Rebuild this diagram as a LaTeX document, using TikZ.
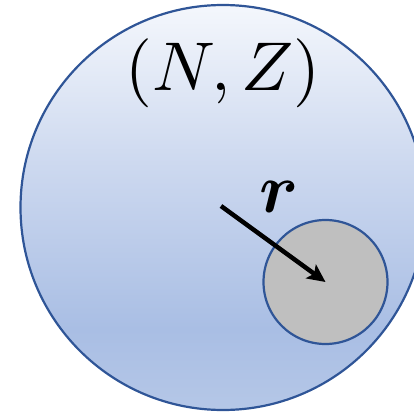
\documentclass[tikz,border=0pt]{standalone}
\usepackage{amsmath}
\usepackage{bm}
\usepackage{tikz}
\usetikzlibrary{arrows.meta}
\usepackage{xcolor}

\definecolor{rim}{HTML}{2F5597}
\definecolor{fillA}{HTML}{F4F7FC}
\definecolor{fillB}{HTML}{CCD8EF}
\definecolor{fillC}{HTML}{A9BEE4}
\definecolor{fillD}{HTML}{B5C7E7}
\pgfdeclareverticalshading{bubble}{100bp}{color(0bp)=(fillD); color(25bp)=(fillD); color(35bp)=(fillC); color(55bp)=(fillB); color(75bp)=(fillA); color(100bp)=(fillA)}

\begin{document}
\begin{tikzpicture}[x=1pt, y=-1pt,
    nucleus/.style={circle, draw=rim, line width=2.2pt, shading=bubble, inner sep=0pt, minimum size=405pt},
    cluster/.style={circle, draw=rim, line width=2.2pt, fill=black!25, inner sep=0pt, minimum size=124pt}]
    \useasboundingbox (0,0) rectangle (413,414);
    \node[nucleus] (nuc) at (223,207.5) {};
    \node[cluster] (clu) at (325.5,282) {};
    \node[scale=6.9] (title) at (223,73) {$(N,Z)$};
    \node[scale=7] (rlab) at (279,197) {$\bm{r}$};
    \coordinate (start) at (221,206);
    \draw[line width=4.5pt, -{Stealth[length=18pt, width=17pt, inset=4pt]}] (start) -- (clu.center);
\end{tikzpicture}
\end{document}
